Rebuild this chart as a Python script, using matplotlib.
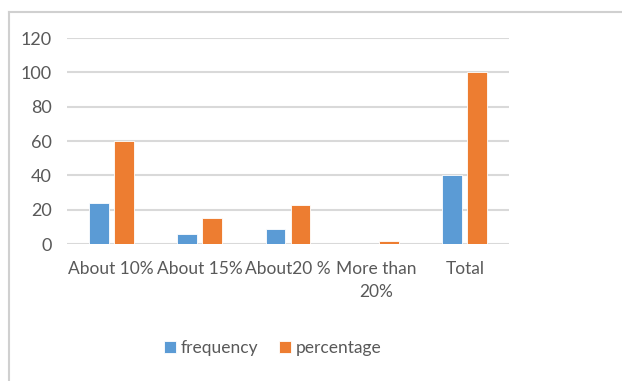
import matplotlib
matplotlib.use("Agg")
import matplotlib.pyplot as plt
import numpy as np
from matplotlib.lines import Line2D

# Survey responses by expected rise
categories = ["About 10%", "About 15%", "About20 %", "More than\n20%", "Total"]
frequency = [24, 6, 9, 0, 40]
percentage = [60, 15, 22.5, 2, 100]
y_ticks = [0, 20, 40, 60, 80, 100, 120]

BLUE = "#5B9BD5"
ORANGE = "#ED7D31"
TEXT = "#595959"
GRID = "#D9D9D9"

plt.rcParams["font.family"] = ["Lato", "DejaVu Sans"]

fig = plt.figure(figsize=(6.22, 3.81), dpi=100)
# chart frame: left and top edges only, the rest runs off the canvas
frame_x, frame_y = 8.5 / 622, 1 - 11.5 / 381
fig.lines.append(Line2D([frame_x, frame_x], [0, frame_y], transform=fig.transFigure,
                        color="#D0D0D0", linewidth=1.5))
fig.lines.append(Line2D([frame_x, 1], [frame_y, frame_y], transform=fig.transFigure,
                        color="#D0D0D0", linewidth=1.5))

ax = fig.add_axes([67 / 622, 1 - 244 / 381, 442 / 622, 206 / 381])
x = np.arange(len(categories))
w = 0.226
gap = 0.057
ax.bar(x - (w + gap) / 2, frequency, width=w, color=BLUE, edgecolor="white",
       linewidth=0.6, label="frequency", zorder=3)
ax.bar(x + (w + gap) / 2, percentage, width=w, color=ORANGE, edgecolor="white",
       linewidth=0.6, label="percentage", zorder=3)

ax.set_xlim(-0.5, len(categories) - 0.5)
ax.set_ylim(0, 120)
ax.set_yticks(y_ticks)
ax.set_xticks(x)
ax.set_xticklabels(categories, linespacing=1.6, fontsize=12.5)
ax.tick_params(axis="both", length=0, colors=TEXT)
ax.tick_params(axis="y", pad=11, labelsize=13)
ax.tick_params(axis="x", pad=12)
ax.grid(axis="y", color=GRID, linewidth=1.5, zorder=0)
for s in ax.spines.values():
    s.set_visible(False)

leg = fig.legend(loc="center", bbox_to_anchor=(273 / 622, 1 - 348 / 381),
                 ncol=2, frameon=False, fontsize=12.5, handlelength=0.65,
                 handleheight=0.7, handletextpad=0.3, columnspacing=1.2)
for t in leg.get_texts():
    t.set_color(TEXT)

fig.savefig("out.png", dpi=100)
